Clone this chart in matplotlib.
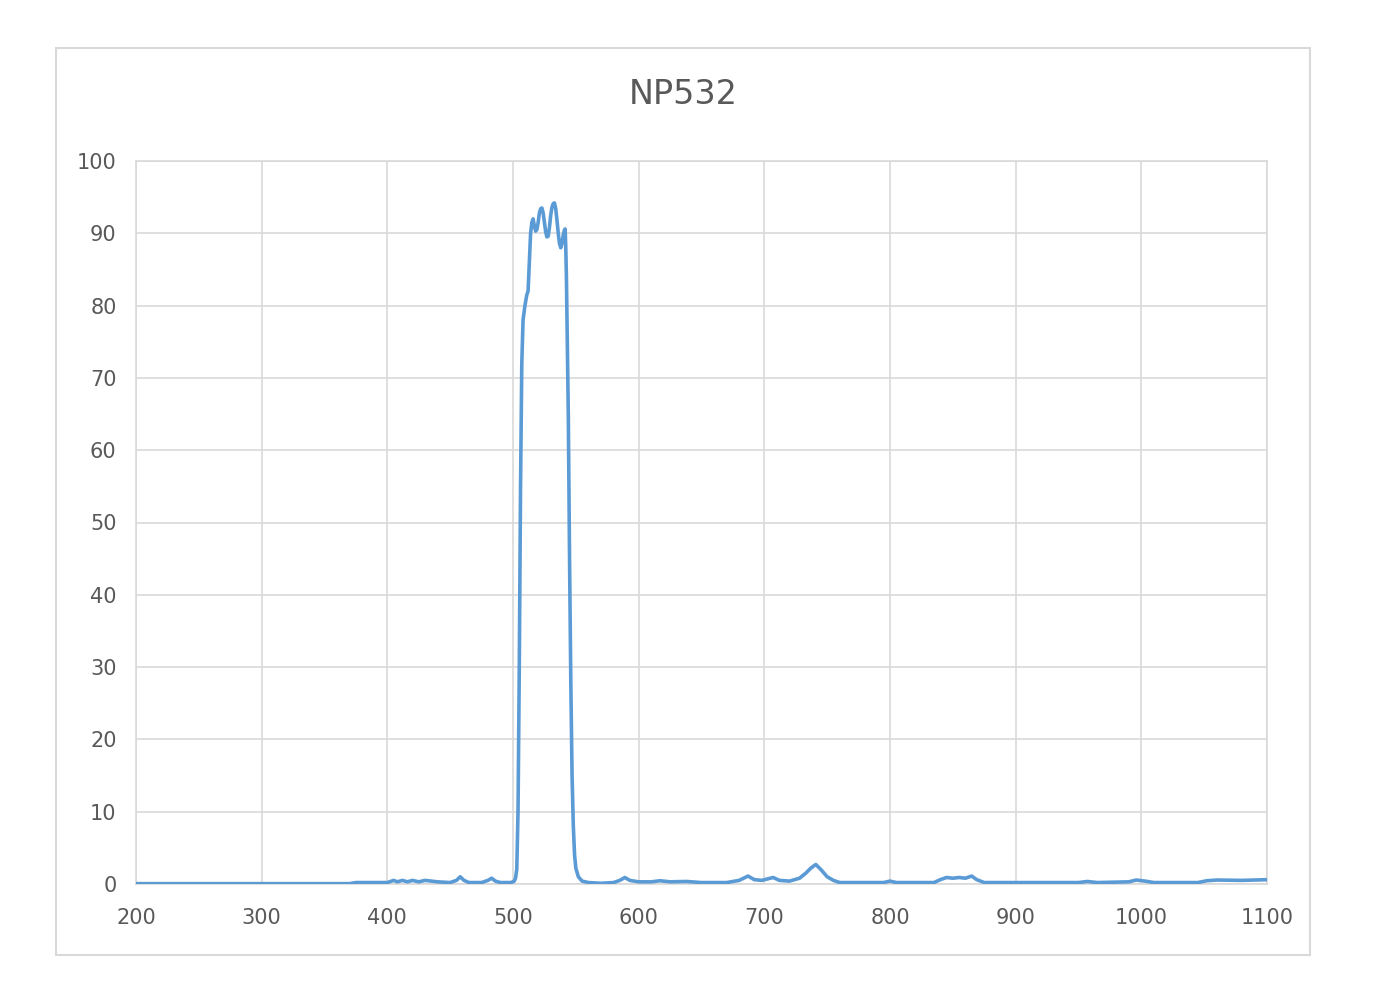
import matplotlib
matplotlib.use("Agg")
import matplotlib.pyplot as plt
from matplotlib.patches import Rectangle

title = "NP532"
wavelength = [200, 250, 300, 350, 370, 375, 400, 405, 408, 412, 416, 420, 425, 430, 435, 440,
              450, 455, 458, 461, 465, 475, 480, 483, 486, 490, 498, 500,
              501, 502, 503, 504, 505, 506, 507, 508, 509.5, 511, 512, 513, 514, 515, 516,
              517, 518, 519, 520, 521, 522, 523, 524, 525, 526, 527, 528, 529, 530, 531,
              532, 533, 534, 535, 536, 537, 538, 539, 540, 541, 541.5, 542, 542.5, 543,
              544, 545, 546, 547, 548, 549, 550, 552, 555, 560, 570, 580, 585, 589, 593,
              600, 610, 617, 625, 638, 650, 670, 680, 687, 692, 698, 707, 712, 720, 728,
              733, 737, 741, 745, 750, 755, 760, 780, 795, 800, 805, 835, 840, 845, 850,
              855, 860, 865, 869, 875, 900, 950, 957, 965, 990, 996, 1003, 1010, 1045,
              1052, 1060, 1080, 1100]
transmission = [0.05, 0.05, 0.05, 0.05, 0.05, 0.2, 0.2, 0.5, 0.3, 0.5, 0.3, 0.5, 0.3, 0.5, 0.4, 0.3,
                0.2, 0.5, 1.0, 0.5, 0.2, 0.2, 0.5, 0.8, 0.4, 0.2, 0.2, 0.3,
                0.4, 0.8, 2, 10, 30, 55, 72, 78, 80, 81.5, 82, 86, 90, 91.5, 92,
                91, 90.3, 90.5, 91.5, 92.8, 93.4, 93.5, 92.8, 91.5, 90.2, 89.5, 89.6, 90.8, 92.5, 93.6,
                94.1, 94.2, 93.4, 91.8, 90, 88.6, 88, 88.6, 89.8, 90.5, 90.6, 88, 84, 78,
                65, 45, 28, 15, 8, 4, 2.2, 1, 0.4, 0.2, 0.1, 0.2, 0.5, 0.9, 0.5,
                0.3, 0.3, 0.45, 0.3, 0.35, 0.2, 0.2, 0.5, 1.1, 0.6, 0.5, 0.9, 0.5, 0.4, 0.8,
                1.5, 2.2, 2.7, 2.0, 1.0, 0.5, 0.2, 0.2, 0.2, 0.4, 0.2, 0.2, 0.6, 0.9, 0.8,
                0.9, 0.8, 1.1, 0.6, 0.2, 0.2, 0.2, 0.35, 0.2, 0.3, 0.55, 0.4, 0.2, 0.2,
                0.45, 0.55, 0.5, 0.6]
x_ticks = [200, 300, 400, 500, 600, 700, 800, 900, 1000, 1100]
y_ticks = [0, 10, 20, 30, 40, 50, 60, 70, 80, 90, 100]

grid_c = "#d9d9d9"
text_c = "#595959"

fig = plt.figure(figsize=(13.74, 10), dpi=100)
fig.patches.append(Rectangle((56/1374, 1-955/1000), 1254/1374, 907/1000,
                             transform=fig.transFigure, fill=False,
                             edgecolor=grid_c, linewidth=1.5, zorder=0))
ax = fig.add_axes([136/1374, 1-884/1000, (1267-136)/1374, (884-161)/1000])
ax.plot(wavelength, transmission, color="#5b9bd5", linewidth=2.6, zorder=3,
        solid_joinstyle="round")
ax.set_xlim(200, 1100)
ax.set_ylim(0, 100)
ax.set_xticks(x_ticks)
ax.set_yticks(y_ticks)
ax.grid(True, color=grid_c, linewidth=1.2)
ax.set_axisbelow(True)
for s in ax.spines.values():
    s.set_color(grid_c)
    s.set_linewidth(1.2)
ax.tick_params(length=0, labelsize=15, labelcolor=text_c)
ax.tick_params(axis="x", pad=17)
ax.tick_params(axis="y", pad=14)
fig.text(683/1374, 1-95/1000, title, ha="center", va="center",
         fontsize=24, color=text_c)
fig.savefig("out.png", dpi=100)
